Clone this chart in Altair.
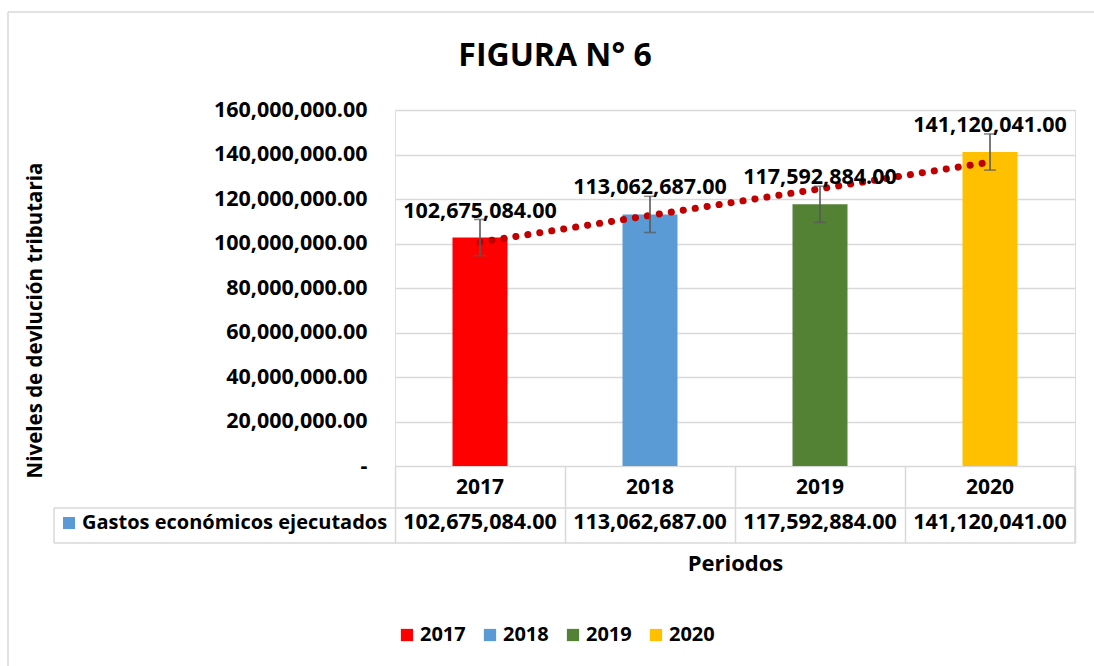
import altair as alt
import pandas as pd

years = ["2017", "2018", "2019", "2020"]
values = [102675084.00, 113062687.00, 117592884.00, 141120041.00]
errors = [8127000, 8127000, 8127000, 8127000]
trend = [100630000, 112620000, 124600000, 136580000]
colors = ["#FF0000", "#5B9BD5", "#548235", "#FFC000"]
y_ticks = [0, 20e6, 40e6, 60e6, 80e6, 100e6, 120e6, 140e6, 160e6]

FONT = "Open Sans"
FS = 21.5
GRID = "#D9D9D9"

df = pd.DataFrame({
    "year": years,
    "value": values,
    "low": [v - e for v, e in zip(values, errors)],
    "high": [v + e for v, e in zip(values, errors)],
    "trend": trend,
})

W, H = 680, 356

xenc = alt.X("year:N", scale=alt.Scale(domain=years, paddingInner=0, paddingOuter=0),
             axis=alt.Axis(labels=False, domain=False, ticks=True, tickBand="extent",
                           tickSize=77, tickColor=GRID, tickWidth=1.5,
                           title="Periodos", titleFont=FONT, titleFontSize=22,
                           titleFontWeight="bold", titleColor="black",
                           titleY=97, titleBaseline="middle"))

yenc = alt.Y("value:Q", scale=alt.Scale(domain=[0, 160e6], nice=False),
             axis=alt.Axis(values=y_ticks, domain=False, ticks=False,
                           labelExpr="datum.value == 0 ? '-' : format(datum.value, ',.2f')",
                           labelFont=FONT, labelFontSize=FS, labelFontWeight="bold",
                           labelColor="black", labelPadding=28,
                           gridColor=GRID, gridWidth=1.5,
                           title="Niveles de devlución tributaria", titleFont=FONT,
                           titleFontSize=20.5, titleFontWeight="bold", titleColor="black",
                           titleAngle=270, titleX=-360, titleY=210,
                           titleAlign="center", titleBaseline="middle"))

base = alt.Chart(df)

bars = base.mark_bar(size=55).encode(
    x=xenc,
    y=yenc,
    color=alt.Color("year:N", scale=alt.Scale(domain=years, range=colors),
                    legend=alt.Legend(orient="none", legendX=2, legendY=515,
                                      direction="horizontal", title=None,
                                      symbolType="square", symbolSize=150,
                                      symbolStrokeWidth=0, labelFont=FONT,
                                      labelFontSize=20, labelFontWeight="bold",
                                      labelColor="black", columnPadding=14,
                                      labelOffset=3, padding=0)),
)

err_rule = base.mark_rule(color="#595959", strokeWidth=1.6).encode(
    x="year:N", y="low:Q", y2="high:Q")
cap_lo = base.mark_tick(color="#595959", thickness=1.6, size=12).encode(x="year:N", y="low:Q")
cap_hi = base.mark_tick(color="#595959", thickness=1.6, size=12).encode(x="year:N", y="high:Q")

trend_line = base.mark_line(color="#C00000", strokeWidth=7, strokeCap="round",
                            strokeDash=[0.1, 12]).encode(x="year:N", y="trend:Q")

labels = base.mark_text(font=FONT, fontSize=FS, fontWeight="bold", color="black",
                        dy=-26, baseline="middle").encode(
    x="year:N", y="value:Q", text=alt.Text("value:Q", format=",.2f"))

# data table
year_row = base.mark_text(font=FONT, fontSize=21, fontWeight="bold", color="black",
                          baseline="middle").encode(
    x="year:N", y=alt.value(378), text="year:N")
val_row = base.mark_text(font=FONT, fontSize=FS, fontWeight="bold", color="black",
                         baseline="middle").encode(
    x="year:N", y=alt.value(413), text=alt.Text("value:Q", format=",.2f"))

row_label = alt.Chart(pd.DataFrame({"t": ["Gastos económicos ejecutados"]})).mark_text(
    font=FONT, fontSize=20, fontWeight="bold", color="black", align="left",
    baseline="middle").encode(x=alt.value(-313), y=alt.value(413), text="t:N")
row_key = alt.Chart(pd.DataFrame({"t": ["k"]})).mark_square(
    size=144, color="#5B9BD5", opacity=1).encode(x=alt.value(-326), y=alt.value(413))

hl1 = alt.Chart(pd.DataFrame({"t": [1]})).mark_rule(color=GRID, strokeWidth=1.5).encode(
    x=alt.value(-341), x2=alt.value(W), y=alt.value(398))
hl2 = alt.Chart(pd.DataFrame({"t": [1]})).mark_rule(color=GRID, strokeWidth=1.5).encode(
    x=alt.value(-341), x2=alt.value(W), y=alt.value(433))
vl1 = alt.Chart(pd.DataFrame({"t": [1]})).mark_rule(color=GRID, strokeWidth=1.5).encode(
    x=alt.value(-341), y=alt.value(398), y2=alt.value(433))
vl2 = alt.Chart(pd.DataFrame({"t": [1]})).mark_rule(color=GRID, strokeWidth=1.5).encode(
    x=alt.value(W), y=alt.value(H), y2=alt.value(433))

frame_top = alt.Chart(pd.DataFrame({"t": [1]})).mark_rule(color=GRID, strokeWidth=1.5).encode(
    x=alt.value(-387), x2=alt.value(900), y=alt.value(-98))
frame_left = alt.Chart(pd.DataFrame({"t": [1]})).mark_rule(color=GRID, strokeWidth=1.5).encode(
    x=alt.value(-387), y=alt.value(-98), y2=alt.value(700))

title = alt.Chart(pd.DataFrame({"t": ["FIGURA N° 6"]})).mark_text(
    font=FONT, fontSize=32, fontWeight="bold", color="black", baseline="middle").encode(
    x=alt.value(160), y=alt.value(-54), text="t:N")

chart = alt.layer(
    frame_top, frame_left, bars, trend_line, err_rule, cap_lo, cap_hi, labels,
    year_row, val_row, row_label, row_key, hl1, hl2, vl1, vl2, title
).properties(
    width=W, height=H,
    autosize=alt.AutoSizeParams(type="none"),
    padding={"left": 395, "top": 110, "right": 19, "bottom": 200},
).configure_view(stroke=None).configure(background="white")

chart.save("out.html", embed_options={"renderer": "svg", "actions": False})
